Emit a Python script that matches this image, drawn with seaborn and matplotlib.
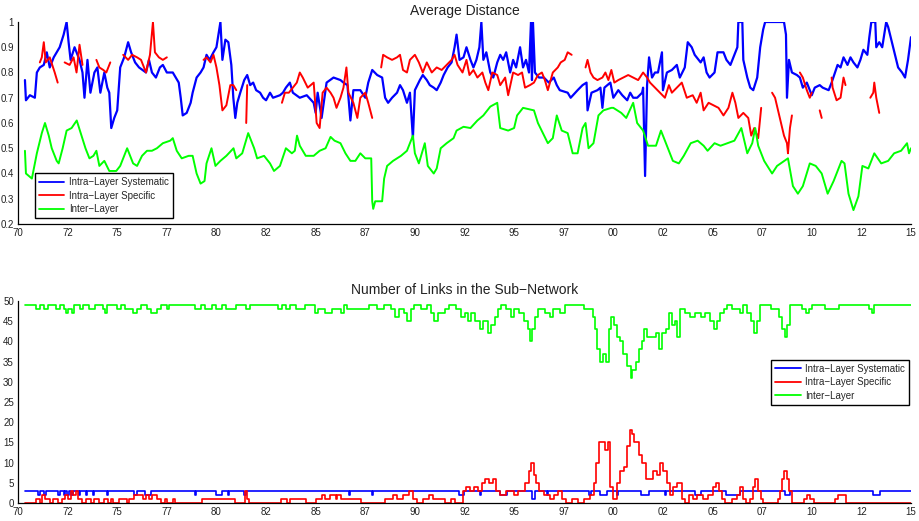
import numpy as np
import pandas as pd
import matplotlib
matplotlib.use("Agg")
import matplotlib.pyplot as plt
from matplotlib.lines import Line2D
import seaborn as sns

# ---------------- data: Average Distance ----------------
sys_t = [1970.35,1970.4,1970.6,1970.85,1970.95,1971.1,1971.3,1971.45,1971.6,1971.8,1971.95,1972.1,1972.3,1972.45,1972.55,
         1972.65,1972.85,1973.1,1973.25,1973.35,1973.5,1973.65,1973.85,1974.0,1974.15,1974.35,1974.5,1974.6,1974.7,1974.85,
         1975.0,1975.15,1975.35,1975.55,1975.7,1975.9,1976.1,1976.45,1976.6,1976.75,1976.95,1977.15,1977.3,1977.5,1977.8,
         1978.1,1978.2,1978.3,1978.5,1978.7,1978.8,1979.0,1979.2,1979.35,1979.5,1979.65,1979.85,1980.0,1980.2,1980.3,
         1980.45,1980.6,1980.75,1980.85,1980.95,1981.05,1981.2,1981.4,1981.55,1981.7,1981.85,1982.0,1982.2,1982.35,1982.5,
         1982.7,1982.85,1983.2,1983.35,1983.5,1983.7,1983.85,1984.2,1984.55,1984.9,1985.0,1985.1,1985.3,1985.55,1985.9,
         1986.25,1986.4,1986.6,1986.75,1986.9,1987.25,1987.5,1987.65,1987.85,1988.1,1988.35,1988.5,1988.65,1988.85,1989.1,
         1989.25,1989.4,1989.6,1989.75,1989.9,1990.0,1990.25,1990.4,1990.6,1990.75,1990.95,1991.1,1991.3,1991.45,1991.65,
         1991.85,1992.0,1992.1,1992.25,1992.45,1992.6,1992.8,1992.95,1993.1,1993.25,1993.35,1993.45,1993.6,1993.8,1993.95,
         1994.15,1994.3,1994.45,1994.6,1994.8,1994.95,1995.1,1995.3,1995.45,1995.6,1995.75,1995.85,1995.9,1995.95,1996.05,
         1996.25,1996.5,1996.75,1997.0,1997.15,1997.3,1997.7,1997.85,1998.2,1998.45,1998.65,1998.7,1998.9,1999.2,1999.35,
         1999.45,1999.55,1999.85,2000.0,2000.25,2000.45,2000.7,2000.85,2001.0,2001.2,2001.45,2001.5,2001.6,2001.7,2001.8,
         2001.95,2002.1,2002.25,2002.45,2002.5,2002.7,2002.95,2003.2,2003.35,2003.6,2003.75,2003.95,2004.1,2004.4,2004.55,
         2004.7,2004.85,2005.1,2005.25,2005.55,2005.7,2005.9,2006.05,2006.25,2006.3,2006.5,2006.55,2006.75,2006.9,2007.05,
         2007.25,2007.4,2007.55,2007.65,2008.05,2008.6,2008.7,2008.75,2008.85,2009.0,2009.25,2009.4,2009.55,2009.75,2010.0,
         2010.15,2010.4,2010.55,2010.85,2011.0,2011.3,2011.45,2011.6,2011.8,2011.95,2012.1,2012.3,2012.45,2012.6,2012.8,
         2012.9,2013.0,2013.2,2013.25,2013.4,2013.55,2013.75,2013.85,2014.1,2014.35,2014.55,2014.7,2014.85,2015.0]
sys_v = [0.77,0.69,0.71,0.70,0.80,0.82,0.83,0.88,0.82,0.86,0.88,0.90,0.95,1.00,0.92,
         0.85,0.90,0.85,0.80,0.70,0.85,0.72,0.80,0.82,0.72,0.80,0.74,0.72,0.58,0.62,
         0.65,0.82,0.86,0.92,0.88,0.84,0.82,0.80,0.85,0.80,0.78,0.82,0.83,0.80,0.80,
         0.76,0.70,0.63,0.64,0.68,0.72,0.78,0.80,0.82,0.87,0.85,0.88,0.90,1.00,0.85,
         0.93,0.92,0.83,0.70,0.62,0.68,0.72,0.77,0.79,0.75,0.76,0.73,0.72,0.70,0.69,
         0.72,0.70,0.71,0.72,0.74,0.76,0.72,0.70,0.71,0.68,0.64,0.72,0.62,0.76,0.78,
         0.77,0.76,0.75,0.61,0.73,0.73,0.70,0.76,0.81,0.79,0.78,0.70,0.68,0.70,0.72,
         0.75,0.73,0.68,0.72,0.54,0.73,0.77,0.79,0.77,0.75,0.74,0.73,0.76,0.79,0.82,
         0.84,0.90,0.95,0.85,0.86,0.90,0.85,0.82,0.85,0.90,1.00,0.85,0.88,0.80,0.78,
         0.84,0.87,0.85,0.88,0.80,0.85,0.82,0.90,0.82,0.85,0.80,1.00,0.77,1.00,0.80,
         0.78,0.78,0.76,0.78,0.75,0.73,0.72,0.70,0.73,0.75,0.76,0.65,0.72,0.73,0.74,
         0.66,0.74,0.76,0.70,0.73,0.71,0.69,0.72,0.70,0.70,0.72,0.74,0.39,0.75,0.86,
         0.78,0.80,0.80,0.88,0.73,0.80,0.81,0.83,0.78,0.82,0.92,0.90,0.87,0.84,0.86,
         0.80,0.78,0.80,0.88,0.88,0.85,0.83,0.86,0.90,1.00,1.00,0.85,0.78,0.74,0.73,
         0.78,0.90,0.97,1.00,1.00,1.00,0.95,0.70,0.85,0.80,0.79,0.78,0.74,0.76,0.71,
         0.74,0.75,0.74,0.73,0.76,0.83,0.82,0.86,0.83,0.86,0.84,0.82,0.85,0.89,0.87,
         0.94,1.00,1.00,0.90,0.92,0.90,1.00,0.98,0.90,0.82,0.80,0.78,0.85,0.94]

nan = float("nan")
spec_t = [1971.1,1971.2,1971.3,1971.4,1971.6,1971.85,1972.0,1972.1,1972.35,1972.6,1972.8,1972.95,1973.1,1973.25,1973.35,
          1973.95,1974.1,1974.3,1974.45,1974.65,1974.75,1975.3,1975.55,1975.75,1976.0,1976.2,1976.45,1976.65,1976.8,1976.9,
          1977.1,1977.3,1977.5,1977.6,1979.35,1979.5,1979.7,1979.85,1980.0,1980.15,1980.3,1980.5,1980.7,1980.85,1981.0,
          1981.1,1981.5,1981.55,1981.6,1983.3,1983.45,1983.65,1983.85,1984.05,1984.2,1984.35,1984.6,1984.9,1985.05,1985.2,
          1985.35,1985.55,1985.75,1985.9,1986.05,1986.25,1986.4,1986.55,1986.65,1986.9,1987.1,1987.25,1987.5,1987.65,1987.85,
          1987.9,1988.3,1988.4,1988.6,1988.85,1989.1,1989.25,1989.4,1989.6,1989.75,1990.0,1990.2,1990.4,1990.6,1990.85,
          1991.1,1991.35,1991.6,1991.85,1992.0,1992.15,1992.4,1992.6,1992.75,1992.95,1993.15,1993.4,1993.55,1993.7,1993.9,
          1994.15,1994.3,1994.55,1994.7,1994.95,1995.2,1995.4,1995.55,1995.8,1996.0,1996.2,1996.4,1996.55,1996.7,1996.95,
          1997.2,1997.35,1997.55,1997.7,1997.9,1998.0,1998.6,1998.7,1998.85,1999.0,1999.2,1999.45,1999.6,1999.75,1999.9,
          2000.05,2000.25,2000.5,2000.75,2001.0,2001.25,2001.5,2001.7,2001.85,2002.1,2002.35,2002.6,2002.8,2002.95,2003.2,
          2003.45,2003.7,2004.0,2004.2,2004.4,2004.55,2004.8,2005.05,2005.3,2005.55,2005.8,2006.0,2006.15,2006.3,2006.55,
          2006.8,2006.95,2007.1,2007.3,2007.45,2007.5,2008.0,2008.15,2008.45,2008.6,2008.75,2008.8,2008.9,2009.0,2009.05,
          2009.4,2009.55,2009.75,2009.9,2010.0,2010.1,2010.4,2010.5,2010.55,2011.0,2011.05,2011.25,2011.45,2011.6,2011.7,
          2011.75,2012.95,2013.1,2013.15,2013.25,2013.4]
spec_v = [0.84,0.86,0.92,0.84,0.86,0.80,0.76,nan,0.84,0.83,0.86,0.80,0.91,0.83,nan,
          0.85,0.82,0.81,0.80,0.84,nan,0.87,0.85,0.87,0.86,0.85,0.80,0.87,1.00,0.88,
          0.86,0.85,0.86,nan,0.85,0.86,0.84,0.87,0.82,0.75,0.65,0.67,0.75,0.75,0.73,
          nan,0.60,0.75,nan,0.68,0.72,0.72,0.74,0.76,0.80,0.78,0.74,0.76,0.60,0.58,
          0.72,0.74,0.72,0.70,0.66,0.70,0.74,0.82,0.72,0.68,0.62,0.70,0.72,0.68,0.62,
          nan,0.82,0.87,0.86,0.85,0.86,0.87,0.81,0.80,0.85,0.87,0.84,0.80,0.84,0.80,
          0.82,0.81,0.83,0.85,0.87,0.83,0.80,0.85,0.79,0.81,0.78,0.80,0.76,0.73,0.80,
          0.79,0.75,0.78,0.71,0.80,0.79,0.80,0.74,0.75,0.76,0.79,0.80,0.77,0.73,0.80,
          0.82,0.84,0.85,0.88,0.87,nan,0.82,0.85,0.80,0.78,0.77,0.78,0.80,0.77,0.81,
          0.76,0.77,0.78,0.79,0.78,0.77,0.80,0.78,0.76,0.74,0.72,0.70,0.75,0.72,0.74,
          0.76,0.70,0.71,0.68,0.72,0.65,0.68,0.67,0.66,0.63,0.66,0.72,0.68,0.62,0.64,
          0.62,0.55,0.58,0.54,0.66,nan,0.72,0.70,0.60,0.55,0.52,0.48,0.58,0.63,nan,
          0.80,0.78,0.73,0.70,0.72,nan,0.65,0.62,nan,0.78,0.74,0.69,0.70,0.78,0.75,
          nan,0.70,0.72,0.76,0.70,0.64]

inter_t = [1970.35,1970.4,1970.7,1970.95,1971.2,1971.36,1971.55,1971.7,1971.95,1972.05,1972.15,1972.25,1972.45,1972.7,1972.96,
           1973.2,1973.4,1973.6,1973.8,1973.95,1974.1,1974.35,1974.6,1974.95,1975.15,1975.35,1975.5,1975.65,1975.8,1976.0,
           1976.25,1976.5,1976.75,1977.0,1977.3,1977.67,1977.8,1978.0,1978.25,1978.6,1978.8,1979.0,1979.2,1979.4,1979.5,
           1979.75,1979.95,1980.2,1980.5,1980.86,1981.0,1981.3,1981.45,1981.6,1981.9,1982.05,1982.4,1982.7,1982.9,1983.2,
           1983.5,1983.8,1983.95,1984.06,1984.2,1984.5,1984.9,1985.2,1985.5,1985.75,1985.95,1986.25,1986.5,1986.75,1987.0,
           1987.25,1987.5,1987.8,1987.85,1987.9,1988.0,1988.35,1988.45,1988.6,1988.9,1989.3,1989.6,1989.9,1990.0,1990.2,
           1990.5,1990.65,1990.95,1991.1,1991.3,1991.6,1991.95,1992.1,1992.45,1992.8,1993.15,1993.45,1993.8,1994.15,1994.3,
           1994.7,1995.0,1995.15,1995.45,1996.0,1996.2,1996.7,1996.95,1997.15,1997.4,1997.7,1997.95,1998.2,1998.45,1998.6,
           1998.75,1999.0,1999.25,1999.5,1999.9,2000.0,2000.4,2000.65,2001.0,2001.2,2001.5,2001.75,2002.15,2002.4,2002.65,
           2003.0,2003.3,2003.55,2003.9,2004.25,2004.55,2004.75,2005.1,2005.4,2005.75,2006.1,2006.45,2006.75,2007.0,2007.15,
           2007.3,2007.6,2008.0,2008.25,2008.8,2009.05,2009.3,2009.55,2009.9,2010.2,2010.5,2010.8,2011.1,2011.5,2011.65,
           2011.85,2012.1,2012.35,2012.55,2012.85,2013.15,2013.5,2013.85,2014.15,2014.5,2014.8,2014.9,2015.0]
inter_v = [0.49,0.40,0.38,0.48,0.56,0.60,0.55,0.50,0.45,0.44,0.47,0.50,0.57,0.58,0.61,
           0.55,0.50,0.46,0.47,0.49,0.43,0.45,0.41,0.41,0.43,0.47,0.50,0.47,0.44,0.43,
           0.47,0.49,0.49,0.50,0.52,0.53,0.54,0.49,0.46,0.47,0.47,0.40,0.36,0.37,0.44,
           0.50,0.43,0.45,0.47,0.50,0.46,0.48,0.52,0.56,0.50,0.46,0.47,0.44,0.41,0.43,
           0.50,0.48,0.49,0.55,0.51,0.47,0.47,0.49,0.50,0.545,0.53,0.52,0.48,0.45,0.45,
           0.48,0.46,0.46,0.29,0.26,0.29,0.29,0.38,0.43,0.45,0.47,0.49,0.55,0.48,0.44,
           0.52,0.43,0.40,0.42,0.50,0.52,0.54,0.57,0.585,0.58,0.61,0.63,0.665,0.68,0.58,
           0.57,0.58,0.63,0.66,0.65,0.60,0.52,0.54,0.63,0.57,0.56,0.48,0.48,0.58,0.60,
           0.50,0.52,0.63,0.65,0.66,0.66,0.64,0.62,0.68,0.60,0.57,0.51,0.51,0.57,0.52,
           0.45,0.44,0.47,0.52,0.53,0.51,0.49,0.52,0.51,0.52,0.53,0.58,0.48,0.52,0.58,
           0.51,0.45,0.40,0.43,0.46,0.35,0.32,0.35,0.44,0.43,0.40,0.32,0.37,0.45,0.44,
           0.32,0.255,0.31,0.43,0.42,0.48,0.44,0.45,0.48,0.49,0.52,0.48,0.50]

# ---------------- data: Number of Links ----------------
nsys_t = [1970.35,1971.0,1971.1,1971.3,1971.4,1972.0,1972.1,1972.3,1972.35,1972.45,1972.55,1972.65,1972.75,1973.05,1973.1,
          1973.45,1973.5,1973.8,1973.85,1974.5,1974.55,1975.85,1976.0,1976.4,1976.7,1978.9,1978.95,1980.0,1980.3,1980.6,
          1980.65,1981.4,1981.5,1986.7,1986.75,1987.85,1987.9,1992.2,1992.45,1993.3,1993.35,1994.3,1994.65,1995.9,1996.05,
          1996.65,1996.7,1998.75,1998.85,1999.33,1999.67,2000.2,2000.25,2001.4,2001.8,2002.6,2002.65,2004.1,2004.4,2005.7,
          2006.4,2008.65,2008.9,2013.1,2013.45,2015.0]
nsys_v = [3,2,3,2,3,2,3,2,3,2,3,2,3,2,3,
          2,3,2,3,2,3,2,3,2,3,2,3,2,3,2,
          3,2,3,2,3,2,3,2,3,2,3,2,3,1,3,
          2,3,2,3,2,3,2,3,2,3,2,3,2,3,2,
          3,2,3,2,3,3]

nspec_t = [1970.35,1970.9,1971.1,1971.2,1971.35,1971.6,1971.75,1972.0,1972.2,1972.35,1972.5,1972.65,1972.75,1972.9,1973.0,
           1973.2,1973.45,1973.7,1973.85,1974.1,1974.35,1974.55,1974.7,1974.8,1975.1,1975.5,1975.6,1975.85,1976.3,1976.45,
           1976.6,1976.75,1977.0,1977.2,1977.4,1977.5,1977.8,1977.9,1979.25,1980.95,1981.45,1981.55,1981.65,1983.25,1983.55,
           1983.7,1984.5,1985.0,1985.3,1985.45,1985.7,1986.0,1986.1,1986.3,1987.3,1988.5,1988.9,1989.1,1989.4,1989.7,
           1989.9,1990.1,1990.4,1990.7,1990.9,1991.5,1991.8,1992.0,1992.4,1992.6,1992.8,1993.0,1993.2,1993.4,1993.55,
           1993.75,1993.95,1994.1,1994.3,1994.6,1995.0,1995.2,1995.55,1995.75,1995.85,1996.0,1996.1,1996.25,1996.5,1996.8,
           1997.0,1997.2,1997.4,1997.6,1997.9,1998.2,1998.5,1998.8,1999.05,1999.15,1999.3,1999.6,1999.75,1999.84,2000.0,
           2000.19,2000.34,2000.55,2000.7,2000.85,2000.95,2001.06,2001.31,2001.46,2001.66,2002.0,2002.2,2002.36,2002.5,2002.7,
           2002.86,2003.0,2003.2,2003.45,2003.6,2003.8,2004.0,2004.2,2004.5,2004.75,2005.0,2005.15,2005.3,2005.5,2005.65,
           2006.0,2006.25,2006.4,2006.55,2006.7,2006.9,2007.05,2007.15,2007.3,2007.45,2007.55,2008.3,2008.4,2008.5,2008.6,
           2008.75,2008.85,2009.0,2009.6,2009.75,2009.9,2010.1,2011.15,2011.3,2011.7,2015.0]
nspec_v = [0,1,0,2,1,0,1,0,1,2,1,3,2,3,1,
           0,1,0,1,0,1,0,1,0,1,0,1,2,1,2,
           1,2,1,0,1,0,1,0,1,0,3,1,0,1,0,
           1,0,1,2,1,2,1,2,1,0,1,2,1,2,3,
           1,0,1,2,1,0,1,0,3,4,3,4,3,5,6,
           5,6,3,2,3,2,3,5,8,10,7,5,3,2,1,
           2,3,1,0,1,0,1,2,5,10,15,13,15,4,1,
           5,8,9,14,18,17,15,12,10,6,8,7,10,8,5,
           2,4,5,1,0,2,1,2,1,2,4,5,3,1,0,
           1,2,4,1,0,1,4,6,3,1,0,1,3,6,8,
           6,3,0,1,2,1,0,1,2,0,0]

ninter_t = [1970.35,1970.9,1971.1,1971.3,1971.5,1971.9,1972.1,1972.3,1972.4,1972.5,1972.7,1972.8,1973.1,1973.3,1973.6,
            1973.9,1974.3,1974.4,1974.5,1975.0,1975.2,1975.4,1975.8,1976.0,1976.2,1976.5,1976.7,1977.0,1977.2,1977.5,
            1977.6,1978.9,1979.2,1979.4,1979.8,1980.0,1980.3,1980.5,1981.0,1981.5,1981.7,1983.1,1983.3,1983.5,1983.7,
            1984.0,1984.45,1984.95,1985.1,1985.45,1985.8,1986.3,1986.45,1986.6,1987.7,1988.1,1988.45,1988.8,1989.0,1989.2,
            1989.45,1989.6,1989.8,1989.95,1990.3,1990.6,1990.8,1990.95,1991.15,1991.5,1991.7,1992.05,1992.3,1992.55,1992.7,
            1992.85,1993.05,1993.3,1993.45,1993.7,1993.85,1994.05,1994.2,1994.35,1994.6,1994.85,1995.0,1995.25,1995.5,1995.7,
            1995.8,1995.9,1996.05,1996.2,1996.55,1996.8,1996.95,1997.3,1997.55,1998.5,1998.8,1999.0,1999.1,1999.2,1999.35,
            1999.5,1999.65,1999.8,1999.9,2000.05,2000.2,2000.35,2000.5,2000.7,2000.9,2000.95,2001.15,2001.3,2001.45,2001.55,
            2001.7,2002.0,2002.15,2002.3,2002.45,2002.65,2002.8,2002.95,2003.1,2003.2,2003.35,2003.6,2003.85,2004.1,2004.4,
            2004.6,2004.85,2005.05,2005.2,2005.4,2005.6,2005.75,2006.0,2006.4,2006.55,2006.75,2006.95,2007.1,2007.25,2007.4,
            2007.95,2008.35,2008.5,2008.65,2008.75,2008.9,2009.5,2009.7,2009.85,2010.0,2010.65,2011.35,2012.9,2013.05,2013.15,
            2015.0]
ninter_v = [49,48,49,48,49,48,49,48,47,48,47,49,48,49,48,
            49,48,47,49,48,49,48,47,48,49,48,47,48,49,48,
            49,48,49,48,49,48,49,48,49,48,49,48,49,48,49,
            48,49,47,48,47,48,47,49,48,49,48,49,48,46,48,
            47,45,48,49,48,49,47,45,47,48,49,48,46,47,45,
            47,45,43,45,42,44,46,48,49,48,46,48,47,45,43,
            40,43,46,48,47,46,48,47,49,48,48,46,43,38,35,
            37,35,43,46,44,41,40,37,34,31,33,35,38,40,43,
            41,41,42,38,42,43,47,44,45,41,48,47,46,47,46,
            47,45,43,45,47,48,49,48,47,49,47,45,42,45,49,
            48,46,43,41,44,49,48,47,48,49,48,49,48,47,49,
            49]

series_names = ["Intra\u2212Layer Systematic", "Intra\u2212Layer Specific", "Inter\u2212Layer"]
colors = ["#0000ff", "#ff0000", "#00ff00"]
xtick_years = np.arange(1970, 2015.01, 2.5)
xtick_labels = [f"{int(t) % 100:02d}" for t in xtick_years]


def segments(t, v):
    df = pd.DataFrame({"year": t, "value": v})
    df["seg"] = df["value"].isna().cumsum()
    return df.dropna()


# ---------------- figure ----------------
sns.set_theme(style="white")
plt.rcParams["font.family"] = ["Liberation Sans", "DejaVu Sans"]
plt.rcParams["axes.unicode_minus"] = True

fig = plt.figure(figsize=(9.2, 5.21), dpi=100)
ax1 = fig.add_axes([18 / 920, 1 - 224 / 521, 893 / 920, 202 / 521])
ax2 = fig.add_axes([18 / 920, 1 - 503 / 521, 893 / 920, 202 / 521])

top_sets = [(sys_t, sys_v), (spec_t, spec_v), (inter_t, inter_v)]
for (t, v), c, w in zip(top_sets, colors, [1.6, 1.4, 1.4]):
    d = segments(t, v)
    sns.lineplot(data=d, x="year", y="value", units="seg", estimator=None, sort=False,
                 color=c, lw=w, ax=ax1, legend=False)

bot_sets = [(nsys_t, nsys_v), (nspec_t, nspec_v), (ninter_t, ninter_v)]
for (t, v), c in zip(bot_sets, colors):
    d = pd.DataFrame({"year": t, "value": v})
    sns.lineplot(data=d, x="year", y="value", estimator=None, sort=False,
                 color=c, lw=1.2, drawstyle="steps-post", ax=ax2, legend=False)

ax1.set_ylim(0.2, 1.0)
ax1.set_yticks(np.arange(0.2, 1.001, 0.1))
ax1.set_yticklabels([f"{y:g}" for y in np.round(np.arange(0.2, 1.001, 0.1), 1)])
ax2.set_ylim(0, 50)
ax2.set_yticks(np.arange(0, 51, 5))

for ax, title in [(ax1, "Average Distance"), (ax2, "Number of Links in the Sub\u2212Network")]:
    ax.set_xlim(1970, 2015)
    ax.set_xticks(xtick_years)
    ax.set_xticklabels(xtick_labels)
    ax.set_xlabel("")
    ax.set_ylabel("")
    ax.set_title(title, fontsize=10, pad=5, color="#222222")
    for s in ["top", "right"]:
        ax.spines[s].set_visible(False)
    for s in ["left", "bottom"]:
        ax.spines[s].set_color("black")
        ax.spines[s].set_linewidth(0.9)
    ax.tick_params(axis="both", direction="in", length=5, width=0.8, colors="black",
                   labelsize=7, labelcolor="#222222", pad=3)
    ax.set_facecolor("white")
    ax.grid(False)

handles = [Line2D([0], [0], color=c, lw=1.3) for c in colors]
for ax, loc, anchor in [(ax1, "lower left", (0.019, 0.03)), (ax2, "upper right", (0.998, 0.708))]:
    leg = ax.legend(handles, series_names, loc=loc, bbox_to_anchor=anchor, borderaxespad=0,
                    fontsize=7, frameon=True, fancybox=False, framealpha=1, edgecolor="black",
                    handlelength=2.6, handletextpad=0.5, labelspacing=0.35, borderpad=0.4)
    leg.get_frame().set_linewidth(1.0)

fig.savefig("out.png", dpi=100, facecolor="white")
